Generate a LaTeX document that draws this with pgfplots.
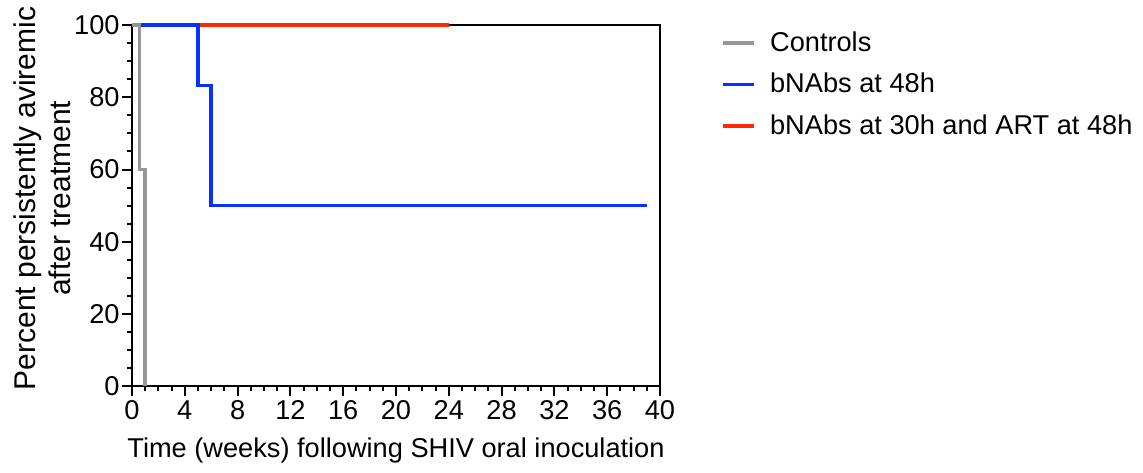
\documentclass[border=0pt]{standalone}
\usepackage{fontspec}
\setmainfont{Liberation Sans}
\usepackage{pgfplots}
\pgfplotsset{compat=1.18}

\definecolor{ctrlgray}{RGB}{150,150,150}
\definecolor{nabblue}{RGB}{8,48,255}
\definecolor{artred}{RGB}{255,40,0}

\begin{document}
\begin{tikzpicture}
\begin{axis}[
  name=ax,
  at={(0,0)}, anchor=south west,
  scale only axis,
  width=264pt, height=180.5pt,
  xmin=0, xmax=40, ymin=0, ymax=100,
  clip=false,
  axis line style={line width=1pt, black},
  xtick={0,4,...,40},
  ytick={0,20,...,100},
  minor xtick={0,1,...,40},
  minor ytick={0,5,...,100},
  xtick pos=bottom, ytick pos=left,
  tick align=outside,
  major tick length=5pt, minor tick length=2.5pt,
  every tick/.style={black, line width=1pt},
  /pgf/number format/assume math mode=true,
  font=\fontsize{13.6}{16}\selectfont,
  ticklabel style={font=\fontsize{13.6}{16}\selectfont},
  xticklabel style={inner sep=1pt, yshift=-1pt},
  yticklabel style={inner sep=1pt},
  xlabel={Time (weeks) following SHIV oral inoculation},
  xlabel style={at={(axis description cs:0.5,-0.177)}, anchor=center, font=\fontsize{13.6}{16}\selectfont},
  ylabel={Percent persistently aviremic\\after treatment},
  ylabel style={at={(axis description cs:-0.170,0.52)}, anchor=center, rotate=0, align=center, font=\fontsize{15}{17.5}\selectfont},
  reverse legend,
  legend cell align=left,
  legend image code/.code={\draw[#1, line width=1.8pt] (0pt,0pt) -- (15.5pt,0pt); \path[draw=none] (0pt,0pt) -- (22.5pt,0pt);},
  legend style={at={(1.104,1.0)}, anchor=north west, draw=none, fill=none,
    font=\fontsize{13.6}{16}\selectfont, row sep=7.5pt,
    nodes={inner sep=1pt}},
]
% treated with bNAbs at 30h and ART at 48h
\addplot[artred, line width=1.8pt, line join=miter] coordinates {(0,100) (24,100)};
\addlegendentry{bNAbs at 30h and ART at 48h}
% bNAbs at 48h
\addplot[nabblue, line width=1.8pt, line join=miter] coordinates {
  (0,100) (5,100) (5,83.33) (6,83.33) (6,50) (39,50)};
\addlegendentry{bNAbs at 48h}
% untreated controls
\addplot[ctrlgray, line width=1.8pt, line join=miter] coordinates {
  (0,100) (0.57,100) (0.57,60) (1,60) (1,0)};
\addlegendentry{Controls}
\end{axis}
\path[use as bounding box] (-66pt,-43pt) rectangle (505.5pt,190.5pt);
\end{tikzpicture}
\end{document}
